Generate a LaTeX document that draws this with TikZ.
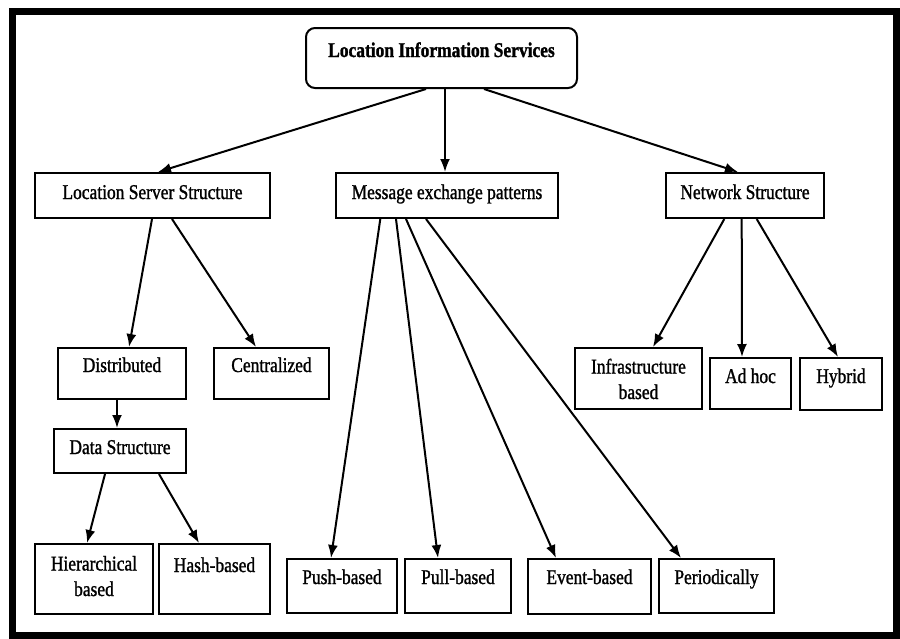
\documentclass[tikz,border=0pt]{standalone}
\usepackage{fontspec}
\setmainfont{Liberation Serif}[FakeStretch=0.83, FakeBold=1.2]
\usetikzlibrary{arrows.meta}

% box from corner (x1,y1) to (x2,y2), last baseline at y = #7
\newcommand\boxnode[8][]{%
  \pgfmathsetmacro\bxw{#5-#3}%
  \pgfmathsetmacro\bxh{#7-#4}%
  \pgfmathsetmacro\bxd{#6-#7}%
  \node[box, #1, minimum width=\bxw pt, text height=\bxh pt, text depth=\bxd pt] (#2) at (#3,#4) {#8};}

\begin{document}
\begin{tikzpicture}[x=1pt, y=-1pt,
  box/.style={draw, line width=2pt, inner sep=0pt, anchor=north west, align=center,
    font=\fontsize{21}{25.5}\selectfont},
  arr/.style={-{Latex[length=13pt,width=10pt]}, line width=2pt}]
\useasboundingbox (0,0) rectangle (900,638);
\fill[white] (0,0) rectangle (900,638);
% outer frame
\draw[line width=7pt] (12.5,11) rectangle (896.5,635);

% root
\boxnode[rounded corners=9pt, font=\fontsize{21}{25.5}\selectfont\bfseries]{root}{305}{27}{576}{87}{56}{Location Information Services}

% second level
\boxnode{lss}{34}{172}{269}{217}{198}{Location Server Structure}
\boxnode{mep}{335}{172}{557}{217}{198}{Message exchange patterns}
\boxnode{ns}{665}{172}{823}{217}{198}{Network Structure}

% location server structure branch
\boxnode{dist}{57}{347}{185}{398}{371}{Distributed}
\boxnode{cent}{213}{347}{328}{398}{371}{Centralized}
\boxnode{ds}{53}{428}{185}{472}{453}{Data Structure}
\boxnode{hier}{34}{543}{152}{613}{595}{Hierarchical\\based}
\boxnode{hash}{158}{543}{269}{613}{571}{Hash-based}

% message exchange branch
\boxnode{push}{286}{558}{396}{612}{583}{Push-based}
\boxnode{pull}{404}{558}{510}{612}{583}{Pull-based}
\boxnode{event}{527}{558}{650}{613}{583}{Event-based}
\boxnode{peri}{658}{558}{773}{612}{583}{Periodically}

% network structure branch
\boxnode{infra}{574}{347}{701}{408}{398}{Infrastructure\\based}
\boxnode{adhoc}{709}{357}{790}{408}{382}{Ad hoc}
\boxnode{hyb}{799}{357}{881}{409}{382}{Hybrid}

% connectors
\draw[arr] ([xshift=-15.5pt]root.south) -- ([xshift=5.5pt]lss.north);
\draw[arr] ([xshift=3.5pt]root.south) -- ([xshift=-2pt]mep.north);
\draw[arr] ([xshift=42.5pt]root.south) -- ([xshift=-7pt]ns.north);

\draw[arr] ([xshift=-0.5pt]lss.south) -- ([xshift=7pt]dist.north);
\draw[arr] ([xshift=19.5pt]lss.south) -- ([xshift=-15.5pt]cent.north);
\draw[arr] ([xshift=-5pt]dist.south) -- ([xshift=-3pt]ds.north);
\draw[arr] ([xshift=-15pt]ds.south) -- ([xshift=-7pt]hier.north);
\draw[arr] ([xshift=39pt]ds.south) -- ([xshift=-15.5pt]hash.north);

\draw[arr] ([xshift=-66.7pt]mep.south) -- ([xshift=-11pt]push.north);
\draw[arr] ([xshift=-51pt]mep.south) -- ([xshift=-20pt]pull.north);
\draw[arr] ([xshift=-41pt]mep.south) -- ([xshift=-33.5pt]event.north);
\draw[arr] ([xshift=-21pt]mep.south) -- ([xshift=-35.5pt]peri.north);

\draw[arr] ([xshift=-20.7pt]ns.south) -- ([xshift=14.5pt]infra.north);
\draw[arr] ([xshift=-3.3pt]ns.south) -- ([xshift=-8.5pt]adhoc.north);
\draw[arr] ([xshift=11.7pt]ns.south) -- ([xshift=-3pt]hyb.north);
\end{tikzpicture}
\end{document}
